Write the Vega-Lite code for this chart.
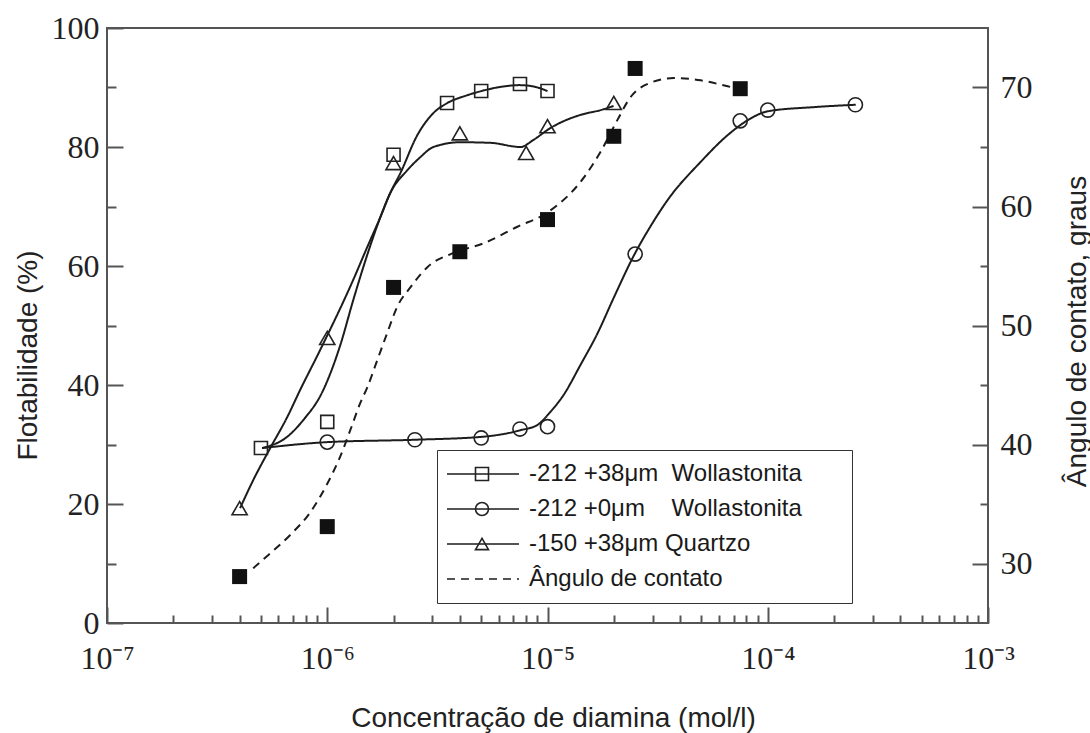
{
  "$schema": "https://vega.github.io/schema/vega-lite/v6.json",
  "width": 881,
  "height": 595,
  "autosize": {"type": "none"},
  "padding": {"left": 107, "top": 28, "right": 102, "bottom": 110},
  "background": "white",
  "config": {
    "view": {"stroke": "#555", "strokeWidth": 2},
    "axis": {
      "grid": false,
      "domain": false,
      "tickColor": "#555",
      "tickWidth": 2,
      "labelFont": "Liberation Serif",
      "labelFontSize": 32,
      "labelColor": "#222",
      "titleFont": "Liberation Sans",
      "titleFontSize": 28,
      "titleFontWeight": "normal",
      "titleColor": "#222",
      "labelFlush": false,
      "labelOverlap": false
    }
  },
  "datasets": {
    "flot_curvas": [
      {"curva": "w38", "c": 5.06e-7, "v": 29.4},
      {"curva": "w38", "c": 6.58e-7, "v": 31.3},
      {"curva": "w38", "c": 7.78e-7, "v": 34.1},
      {"curva": "w38", "c": 9.49e-7, "v": 38.8},
      {"curva": "w38", "c": 1.146e-6, "v": 46.7},
      {"curva": "w38", "c": 1.313e-6, "v": 54.3},
      {"curva": "w38", "c": 1.52e-6, "v": 61.9},
      {"curva": "w38", "c": 1.742e-6, "v": 68.2},
      {"curva": "w38", "c": 1.934e-6, "v": 72.3},
      {"curva": "w38", "c": 2.147e-6, "v": 75.6},
      {"curva": "w38", "c": 2.565e-6, "v": 82.0},
      {"curva": "w38", "c": 3.033e-6, "v": 85.7},
      {"curva": "w38", "c": 3.513e-6, "v": 87.4},
      {"curva": "w38", "c": 4.24e-6, "v": 88.6},
      {"curva": "w38", "c": 5.01e-6, "v": 89.4},
      {"curva": "w38", "c": 6.12e-6, "v": 90.1},
      {"curva": "w38", "c": 7.46e-6, "v": 90.4},
      {"curva": "w38", "c": 8.82e-6, "v": 90.1},
      {"curva": "w38", "c": 1e-5, "v": 89.4},

      {"curva": "w0", "c": 5.06e-7, "v": 29.4},
      {"curva": "w0", "c": 1e-6, "v": 30.4},
      {"curva": "w0", "c": 2.51e-6, "v": 30.8},
      {"curva": "w0", "c": 5.07e-6, "v": 31.3},
      {"curva": "w0", "c": 7.54e-6, "v": 32.4},
      {"curva": "w0", "c": 9.01e-6, "v": 33.3},
      {"curva": "w0", "c": 1.032e-5, "v": 35.5},
      {"curva": "w0", "c": 1.182e-5, "v": 38.3},
      {"curva": "w0", "c": 1.413e-5, "v": 43.4},
      {"curva": "w0", "c": 1.688e-5, "v": 48.7},
      {"curva": "w0", "c": 1.995e-5, "v": 54.6},
      {"curva": "w0", "c": 2.486e-5, "v": 62.0},
      {"curva": "w0", "c": 2.939e-5, "v": 66.7},
      {"curva": "w0", "c": 3.513e-5, "v": 71.1},
      {"curva": "w0", "c": 4.96e-5, "v": 77.5},
      {"curva": "w0", "c": 6.58e-5, "v": 82.0},
      {"curva": "w0", "c": 8.11e-5, "v": 84.5},
      {"curva": "w0", "c": 1e-4, "v": 86.0},
      {"curva": "w0", "c": 1.619e-4, "v": 86.7},
      {"curva": "w0", "c": 2.51e-4, "v": 87.1},

      {"curva": "q38", "c": 4.02e-7, "v": 19.3},
      {"curva": "q38", "c": 4.61e-7, "v": 24.0},
      {"curva": "q38", "c": 5.51e-7, "v": 29.4},
      {"curva": "q38", "c": 6.58e-7, "v": 34.6},
      {"curva": "q38", "c": 7.54e-7, "v": 39.2},
      {"curva": "q38", "c": 9.29e-7, "v": 45.9},
      {"curva": "q38", "c": 1.313e-6, "v": 57.7},
      {"curva": "q38", "c": 1.52e-6, "v": 63.2},
      {"curva": "q38", "c": 1.742e-6, "v": 68.2},
      {"curva": "q38", "c": 1.934e-6, "v": 72.3},
      {"curva": "q38", "c": 2.31e-6, "v": 76.1},
      {"curva": "q38", "c": 2.647e-6, "v": 78.3},
      {"curva": "q38", "c": 3.033e-6, "v": 80.0},
      {"curva": "q38", "c": 4.02e-6, "v": 80.8},
      {"curva": "q38", "c": 5.51e-6, "v": 80.7},
      {"curva": "q38", "c": 7.54e-6, "v": 80.0},
      {"curva": "q38", "c": 8.64e-6, "v": 81.2},
      {"curva": "q38", "c": 1.032e-5, "v": 83.2},
      {"curva": "q38", "c": 1.413e-5, "v": 85.4},
      {"curva": "q38", "c": 1.742e-5, "v": 86.2},
      {"curva": "q38", "c": 1.995e-5, "v": 86.9}
    ],
    "flot_pontos": [
      {"serie": "w38", "c": 5e-7, "v": 29.4},
      {"serie": "w38", "c": 1e-6, "v": 33.8},
      {"serie": "w38", "c": 2e-6, "v": 78.7},
      {"serie": "w38", "c": 3.5e-6, "v": 87.4},
      {"serie": "w38", "c": 5e-6, "v": 89.4},
      {"serie": "w38", "c": 7.5e-6, "v": 90.6},
      {"serie": "w38", "c": 1e-5, "v": 89.4},
      {"serie": "w0", "c": 1e-6, "v": 30.4},
      {"serie": "w0", "c": 2.5e-6, "v": 30.8},
      {"serie": "w0", "c": 5e-6, "v": 31.1},
      {"serie": "w0", "c": 7.5e-6, "v": 32.6},
      {"serie": "w0", "c": 1e-5, "v": 33.0},
      {"serie": "w0", "c": 2.5e-5, "v": 62.0},
      {"serie": "w0", "c": 7.5e-5, "v": 84.4},
      {"serie": "w0", "c": 1e-4, "v": 86.2},
      {"serie": "w0", "c": 2.5e-4, "v": 87.1},
      {"serie": "q38", "c": 4e-7, "v": 19.3},
      {"serie": "q38", "c": 1e-6, "v": 47.9},
      {"serie": "q38", "c": 2e-6, "v": 77.3},
      {"serie": "q38", "c": 4e-6, "v": 82.3},
      {"serie": "q38", "c": 8e-6, "v": 79.0},
      {"serie": "q38", "c": 1e-5, "v": 83.5},
      {"serie": "q38", "c": 2e-5, "v": 87.4}
    ],
    "angulo_curva": [
      {"curva": "ang", "c": 4.61e-7, "v": 29.6},
      {"curva": "ang", "c": 5.39e-7, "v": 30.7},
      {"curva": "ang", "c": 6.79e-7, "v": 32.4},
      {"curva": "ang", "c": 8.37e-7, "v": 34.3},
      {"curva": "ang", "c": 1e-6, "v": 36.7},
      {"curva": "ang", "c": 1.146e-6, "v": 39.0},
      {"curva": "ang", "c": 1.272e-6, "v": 41.2},
      {"curva": "ang", "c": 1.413e-6, "v": 43.5},
      {"curva": "ang", "c": 1.52e-6, "v": 44.8},
      {"curva": "ang", "c": 1.688e-6, "v": 47.1},
      {"curva": "ang", "c": 1.874e-6, "v": 49.4},
      {"curva": "ang", "c": 2.081e-6, "v": 51.6},
      {"curva": "ang", "c": 2.384e-6, "v": 53.2},
      {"curva": "ang", "c": 2.848e-6, "v": 54.9},
      {"curva": "ang", "c": 3.74e-6, "v": 56.1},
      {"curva": "ang", "c": 5.12e-6, "v": 56.9},
      {"curva": "ang", "c": 7.3e-6, "v": 58.3},
      {"curva": "ang", "c": 1e-5, "v": 59.5},
      {"curva": "ang", "c": 1.458e-5, "v": 62.4},
      {"curva": "ang", "c": 1.742e-5, "v": 64.6},
      {"curva": "ang", "c": 2.081e-5, "v": 67.3},
      {"curva": "ang", "c": 2.384e-5, "v": 69.2},
      {"curva": "ang", "c": 2.939e-5, "v": 70.4},
      {"curva": "ang", "c": 3.74e-5, "v": 70.8},
      {"curva": "ang", "c": 4.96e-5, "v": 70.6},
      {"curva": "ang", "c": 6.58e-5, "v": 70.1},
      {"curva": "ang", "c": 7.3e-5, "v": 69.9}
    ],
    "angulo_pontos": [
      {"serie": "ang", "c": 4e-7, "v": 28.9},
      {"serie": "ang", "c": 1e-6, "v": 33.1},
      {"serie": "ang", "c": 2e-6, "v": 53.2},
      {"serie": "ang", "c": 4e-6, "v": 56.2},
      {"serie": "ang", "c": 1e-5, "v": 58.9},
      {"serie": "ang", "c": 2e-5, "v": 65.9},
      {"serie": "ang", "c": 2.5e-5, "v": 71.6},
      {"serie": "ang", "c": 7.5e-5, "v": 69.9}
    ]
  },
  "layer": [
    {
      "data": {"name": "flot_curvas"},
      "mark": {"type": "line", "interpolate": "monotone", "stroke": "#1c1c1c", "strokeWidth": 2},
      "encoding": {
        "x": {
          "field": "c", "type": "quantitative",
          "scale": {"type": "log", "domain": [1e-7, 1e-3], "nice": false},
          "axis": {
            "orient": "bottom",
            "values": [1e-7, 1e-6, 1e-5, 1e-4, 1e-3],
            "tickSize": -16,
            "labelPadding": 36,
            "labelExpr": "'10' + ['⁻⁷','⁻⁶','⁻⁵','⁻⁴','⁻³'][round(log(datum.value) / LN10) + 7]",
            "title": "Concentração de diamina (mol/l)",
            "titleX": 446,
            "titleY": 95,
            "titleBaseline": "middle",
            "titleAlign": "center"
          }
        },
        "y": {
          "field": "v", "type": "quantitative",
          "scale": {"domain": [0, 100], "nice": false},
          "axis": {
            "orient": "left",
            "values": [0, 20, 40, 60, 80, 100],
            "tickSize": -16,
            "labelPadding": 24,
            "title": "Flotabilidade (%)",
            "titleAngle": -90,
            "titleX": -79,
            "titleY": 327,
            "titleBaseline": "middle",
            "titleAlign": "center"
          }
        },
        "strokeDash": {
          "field": "curva", "type": "nominal",
          "scale": {"domain": ["w38", "w0", "q38", "ang"], "range": [[1, 0], [1, 0], [1, 0], [8, 6]]},
          "legend": {
            "orient": "none",
            "legendX": 330,
            "legendY": 422,
            "title": null,
            "padding": 12,
            "rowPadding": 11,
            "strokeColor": "#333",
            "labelFont": "Liberation Sans",
            "labelFontSize": 24,
            "labelColor": "#1a1a1a",
            "labelLimit": 0,
            "symbolType": "M-6,0H6",
            "symbolSize": 144,
            "symbolOffset": 22,
            "symbolStrokeColor": "#222",
            "symbolStrokeWidth": 1.6,
            "labelOffset": 34,
            "labelExpr": "datum.label === 'w38' ? '-212 +38μm\u00a0\u00a0Wollastonita\u00a0\u00a0\u00a0\u2800' : datum.label === 'w0' ? '-212 +0μm\u00a0\u00a0\u00a0\u00a0Wollastonita' : datum.label === 'q38' ? '-150 +38μm Quartzo' : '\u00a0\u00a0\u00a0Ângulo de contato'"
          }
        }
      }
    },
    {
      "data": {"name": "flot_pontos"},
      "mark": {"type": "point", "filled": false, "stroke": "#222", "strokeWidth": 1.6, "opacity": 1},
      "encoding": {
        "x": {
          "field": "c", "type": "quantitative",
          "scale": {"type": "log", "domain": [1e-7, 1e-3], "nice": false},
          "axis": {
            "orient": "bottom",
            "values": [2e-7, 3e-7, 4e-7, 5e-7, 6e-7, 7e-7, 8e-7, 9e-7, 2e-6, 3e-6, 4e-6, 5e-6, 6e-6, 7e-6, 8e-6, 9e-6, 2e-5, 3e-5, 4e-5, 5e-5, 6e-5, 7e-5, 8e-5, 9e-5, 2e-4, 3e-4, 4e-4, 5e-4, 6e-4, 7e-4, 8e-4, 9e-4],
            "tickSize": -8,
            "labels": false,
            "title": null
          }
        },
        "y": {
          "field": "v", "type": "quantitative",
          "scale": {"domain": [0, 100], "nice": false},
          "axis": {
            "orient": "left",
            "values": [10, 30, 50, 70, 90],
            "tickSize": -9,
            "labels": false,
            "title": null
          }
        },
        "shape": {
          "field": "serie", "type": "nominal",
          "scale": {"domain": ["w38", "w0", "q38"], "range": ["square", "circle", "triangle-up"]},
          "legend": {
            "orient": "none",
            "legendX": 330,
            "legendY": 422,
            "title": null,
            "padding": 12,
            "rowPadding": 11,
            "strokeColor": "transparent",
            "labelFont": "Liberation Sans",
            "labelFontSize": 24,
            "labelOpacity": 0,
            "labelLimit": 0,
            "symbolSize": 169,
            "symbolOffset": 21,
            "symbolStrokeColor": "#222",
            "symbolStrokeWidth": 1.6,
            "labelOffset": 34
          }
        },
        "size": {
          "field": "serie", "type": "nominal",
          "scale": {"domain": ["q38", "w0", "w38"], "range": [230, 169, 144]},
          "legend": null
        }
      }
    },
    {
      "data": {"name": "angulo_curva"},
      "mark": {"type": "line", "interpolate": "monotone", "stroke": "#1c1c1c", "strokeWidth": 2},
      "encoding": {
        "x": {
          "field": "c", "type": "quantitative",
          "scale": {"type": "log", "domain": [1e-7, 1e-3], "nice": false},
          "axis": null
        },
        "y": {
          "field": "v", "type": "quantitative",
          "scale": {"domain": [25, 75], "nice": false, "zero": false},
          "axis": {
            "orient": "right",
            "values": [30, 40, 50, 60, 70],
            "tickSize": -16,
            "labelPadding": 28,
            "title": "Ângulo de contato, graus",
            "titleAngle": -90,
            "titleX": 89,
            "titleY": 303,
            "titleBaseline": "middle",
            "titleAlign": "center"
          }
        },
        "strokeDash": {"field": "curva", "type": "nominal"}
      }
    },
    {
      "data": {"name": "angulo_pontos"},
      "mark": {"type": "point", "shape": "square", "filled": true, "fill": "#111", "size": 225, "opacity": 1},
      "encoding": {
        "x": {
          "field": "c", "type": "quantitative",
          "scale": {"type": "log", "domain": [1e-7, 1e-3], "nice": false},
          "axis": null
        },
        "y": {
          "field": "v", "type": "quantitative",
          "scale": {"domain": [25, 75], "nice": false, "zero": false},
          "axis": {
            "orient": "right",
            "values": [35, 45, 55, 65],
            "tickSize": -8,
            "labels": false,
            "title": null
          }
        }
      }
    }
  ],
  "resolve": {
    "scale": {"x": "independent", "y": "independent"},
    "axis": {"x": "independent", "y": "independent"}
  }
}
